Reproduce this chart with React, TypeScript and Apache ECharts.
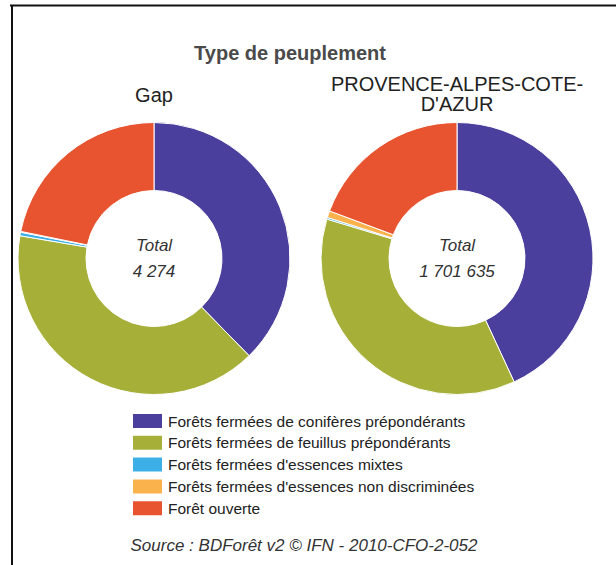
import React, { useEffect, useRef } from "react";
import * as echarts from "echarts";

const categories = [
  "Forêts fermées de conifères prépondérants",
  "Forêts fermées de feuillus prépondérants",
  "Forêts fermées d'essences mixtes",
  "Forêts fermées d'essences non discriminées",
  "Forêt ouverte",
];
const colors = ["#4a3f9c", "#a6b038", "#3cb0e6", "#f9b24c", "#e8542f"];
const gapValues = [1610, 1710, 18, 4, 932];
const pacaValues = [733400, 622500, 3400, 13600, 328735];
const pieNames = ["Gap", "PROVENCE-ALPES-COTE-\nD'AZUR"];

const FONT = 'Arial, "Liberation Sans", sans-serif';

function fmt(n: number): string {
  return String(n).replace(/\B(?=(\d{3})+(?!\d))/g, " ");
}
function sum(a: number[]): number {
  return a.reduce((s, v) => s + v, 0);
}

export default function App() {
  const ref = useRef<HTMLDivElement>(null);
  useEffect(() => {
    if (!ref.current) return;
    const chart = echarts.init(ref.current, undefined, { renderer: "svg" });
    const centers: [number, number][] = [
      [154, 258.5],
      [457, 258.5],
    ];
    const totals = [sum(gapValues), sum(pacaValues)];
    const mkSeries = (vals: number[], i: number) => ({
      type: "pie",
      name: pieNames[i],
      center: centers[i],
      radius: [68, 136],
      startAngle: 90,
      clockwise: true,
      label: { show: false },
      labelLine: { show: false },
      emphasis: { disabled: true },
      silent: true,
      itemStyle: { borderColor: "#ffffff", borderWidth: 1 },
      data: categories.map((c, k) => ({ name: c, value: vals[k] })),
    });
    const centerTexts: any[] = [];
    centers.forEach((c, i) => {
      centerTexts.push({
        type: "text",
        x: c[0],
        y: 245,
        style: {
          text: "Total",
          fontFamily: FONT,
          fontStyle: "italic",
          fontSize: 17,
          fill: "#333333",
          textAlign: "center",
          textVerticalAlign: "middle",
        },
      });
      centerTexts.push({
        type: "text",
        x: c[0],
        y: 271,
        style: {
          text: fmt(totals[i]),
          fontFamily: FONT,
          fontStyle: "italic",
          fontSize: 17,
          fill: "#333333",
          textAlign: "center",
          textVerticalAlign: "middle",
        },
      });
    });
    chart.setOption({
      animation: false,
      color: colors,
      legend: {
        orient: "vertical",
        left: 131,
        top: 412,
        padding: 0,
        itemWidth: 31,
        itemHeight: 16,
        itemGap: 3.8,
        icon: "rect",
        selectedMode: false,
        data: categories,
        textStyle: { fontFamily: FONT, fontSize: 15.5, color: "#222222" },
      },
      series: [mkSeries(gapValues, 0), mkSeries(pacaValues, 1)],
      graphic: [
        {
          type: "line",
          shape: { x1: 10, y1: 5.5, x2: 616, y2: 5.5 },
          style: { stroke: "#111111", lineWidth: 2 },
        },
        {
          type: "line",
          shape: { x1: 12, y1: 5, x2: 12, y2: 565 },
          style: { stroke: "#111111", lineWidth: 2 },
        },
        {
          type: "text",
          x: 290,
          y: 53,
          style: {
            text: "Type de peuplement",
            fontFamily: FONT,
            fontWeight: "bold",
            fontSize: 20,
            fill: "#4a4a4a",
            textAlign: "center",
            textVerticalAlign: "middle",
          },
        },
        {
          type: "text",
          x: 154,
          y: 95,
          style: {
            text: pieNames[0],
            fontFamily: FONT,
            fontSize: 20,
            fill: "#222222",
            textAlign: "center",
            textVerticalAlign: "middle",
          },
        },
        {
          type: "text",
          x: 457,
          y: 94,
          style: {
            text: pieNames[1],
            fontFamily: FONT,
            fontSize: 20,
            lineHeight: 20,
            fill: "#222222",
            textAlign: "center",
            textVerticalAlign: "middle",
          },
        },
        ...centerTexts,
        {
          type: "text",
          x: 304,
          y: 545,
          style: {
            text: "Source : BDForêt v2 © IFN - 2010-CFO-2-052",
            fontFamily: FONT,
            fontStyle: "italic",
            fontSize: 17,
            fill: "#333333",
            textAlign: "center",
            textVerticalAlign: "middle",
          },
        },
      ],
    });
    return () => chart.dispose();
  }, []);
  return (
    <div
      ref={ref}
      style={{
        position: "absolute",
        left: 0,
        top: 0,
        width: 616,
        height: 565,
        background: "#ffffff",
      }}
    />
  );
}
